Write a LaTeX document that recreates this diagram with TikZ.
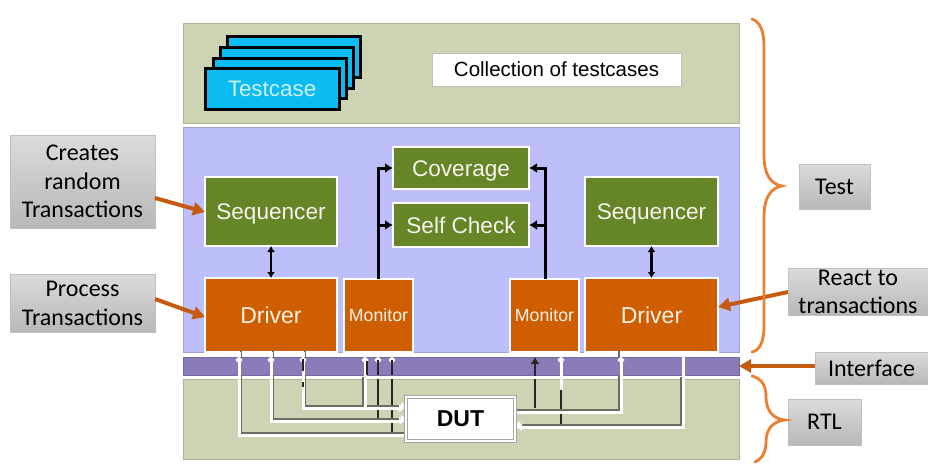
\documentclass[tikz,border=0pt]{standalone}
\usepackage{fontspec}
\setmainfont{Liberation Sans}
\newfontfamily\calib{Carlito}
\usetikzlibrary{arrows.meta}
\definecolor{bandgreen}{HTML}{CDD4B3}
\definecolor{bandblue}{HTML}{BDBFFB}
\definecolor{bandpurple}{HTML}{8A7CB9}
\definecolor{boxgreen}{HTML}{668526}
\definecolor{boxorange}{HTML}{CF5E00}
\definecolor{cardblue}{HTML}{0BBBF2}
\definecolor{arroworange}{HTML}{C55A11}
\definecolor{braceorange}{HTML}{ED7D31}
\definecolor{wireshadow}{HTML}{6A6E60}
\newcommand{\fs}[1]{\fontsize{#1}{#1}\selectfont}
\newcommand{\pxnode}[6]{\node[#6,minimum width={#4-#2},minimum height={#5-#3}] (#1) at ({(#2+#4)/2},{(#3+#5)/2})}
\tikzset{
 x=1pt,y=-1pt,
 band/.style={draw=#1!85!black,line width=0.6pt,fill=#1,inner sep=0,outer sep=0},
 blockg/.style={draw=white,line width=2.6pt,fill=boxgreen,text=white!92!boxgreen,inner sep=0,outer sep=0,font=\fs{22.6},text height=16pt,text depth=0pt},
 blocko/.style={draw=white,line width=2.6pt,fill=boxorange,text=white!92!boxorange,inner sep=0,outer sep=0,font=\fs{23},text height=16.5pt,text depth=0pt},
 monitorbox/.style={blocko,font=\fs{17.7},text height=12.7pt},
 card/.style={draw=black,line width=3pt,fill=cardblue,inner sep=0,outer sep=0,text=white!80!cardblue,font=\fs{22.4},text height=16pt,text depth=0pt},
 note/.style={draw=black!25,line width=0.5pt,top color=black!14,bottom color=black!28,inner sep=0,outer sep=0,align=center,font=\calib\fs{24},text=black},
 flow/.style={draw=black,line width=3pt,-{Latex[length=8pt,width=10pt]}},
 flowb/.style={draw=black,line width=2.8pt,{Latex[length=6pt,width=8pt]}-{Latex[length=6pt,width=8pt]}},
 callout/.style={draw=arroworange,line width=4pt,-{Triangle[length=12pt,width=13pt]}},
 bracec/.style={draw=braceorange,line width=2.8pt,line cap=round},
 wireL/.style={draw=white,line width=3pt,preaction={draw=wireshadow,line width=1.5pt,transform canvas={xshift=2pt,yshift=2pt}}},
 wireR/.style={draw=white,line width=3pt,preaction={draw=wireshadow,line width=1.5pt,transform canvas={xshift=-2pt,yshift=2pt}}},
 wireTop/.style={draw=white,line width=3pt,{Circle[white,length=6pt,width=6pt]}-},
 darkw/.style={draw=black!85,line width=2.8pt},
 intip/.style={-{Latex[white,length=7pt,width=8pt]}},
}
\begin{document}
\begin{tikzpicture}
\useasboundingbox (0,0) rectangle (928,463);
\fill[white] (0,0) rectangle (928,463);
% bands
\pxnode{bandtop}{183}{23}{739}{123}{band=bandgreen}{};
\pxnode{bandmid}{183}{127}{739}{352}{band=bandblue}{};
\pxnode{bandrtl}{183}{379}{739}{459}{band=bandgreen}{};
% testcase cards
\pxnode{c4}{227}{36}{360}{77}{card}{};
\pxnode{c3}{220}{47}{353}{88}{card}{};
\pxnode{c2}{213}{58}{346}{98}{card}{};
\pxnode{c1}{205}{68}{339}{109}{card}{Testcase};
\pxnode{coll}{432}{53}{681}{86}{draw=black!25,line width=1pt,fill=white,inner sep=0,outer sep=0,font=\fs{20.5}}{Collection of testcases};
% blocks
\pxnode{seqL}{205}{177}{337}{246}{blockg}{Sequencer};
\pxnode{seqR}{585}{177}{718}{246}{blockg}{Sequencer};
\pxnode{drvL}{205}{278}{337}{352}{blocko}{Driver};
\pxnode{drvR}{585}{278}{718}{352}{blocko}{Driver};
\pxnode{monL}{344}{279}{413}{352}{monitorbox}{Monitor};
\pxnode{monR}{510}{279}{579}{352}{monitorbox}{Monitor};
\pxnode{cov}{393}{147}{529}{189}{blockg}{Coverage};
\pxnode{chk}{393}{203}{529}{247}{blockg}{Self Check};
% wire columns
\coordinate (a1) at (239,0);
\coordinate (a2) at (271,0);
\coordinate (a3) at (303,0);
\coordinate (a4) at (365,0);
\coordinate (a5) at (378,0);
\coordinate (a6) at (392,0);
\coordinate (b1) at (535,0);
\coordinate (b2) at (561,0);
\coordinate (b3) at (621,0);
\coordinate (b4) at (683,0);
\coordinate (r1) at (0,408);
\coordinate (r2) at (0,421);
\coordinate (r3) at (0,435);
\coordinate (r4) at (0,412);
\coordinate (r5) at (0,427);
\coordinate (vL) at (378,0);
\coordinate (vR) at (545,0);
% flows among blocks
\draw[flowb] (seqL.south) -- (drvL.north);
\draw[flowb] (seqR.south) -- (drvR.north);
\draw[flow] (vL |- monL.north) |- (cov.west);
\draw[flow] (vL |- chk.west) -- (chk.west);
\draw[flow] (vR |- monR.north) |- (cov.east);
\draw[flow] (vR |- chk.east) -- (chk.east);
% DUT wires
\draw[darkw] (a5 |- bandrtl.north) -- (a5 |- r2);
\draw[darkw] (a6 |- bandrtl.north) -- (a6 |- r3);
\draw[darkw] (b2 |- 0,390) -- (b2 |- r5);
\draw[wireL] (a1 |- drvL.south) |- (406,435);
\draw[wireL,intip] (a2 |- drvL.south) |- (406,421);
\draw[wireL,intip] (a3 |- drvL.south) |- (406,408);
\draw[wireR] (a4 |- bandrtl.north) -- (a4 |- r1);
\draw[wireR] (b3 |- drvR.south) |- (515,412);
\draw[wireR,{Latex[white,length=7pt,width=8pt]}-] (515,427) -| (b4 |- bandrtl.north);
\draw[draw=white,line width=3pt] (b2 |- bandrtl.north) -- (b2 |- 0,390);
% device box
\pxnode{dut}{406}{397}{515}{441}{draw=black!35,line width=0.6pt,double=white,double distance=2pt,fill=white,inner sep=0,outer sep=0,font=\bfseries\fs{23}}{DUT};
% interface band over the wires
\pxnode{bandif}{183}{357}{739}{375}{band=bandpurple}{};
\foreach \c in {a1,a2,a3,b3}{
  \draw[wireTop] (\c |- drvL.south) ++(0,5) -- (\c |- bandrtl.north);
}
\foreach \c in {a4,b2}{
  \draw[wireTop] (\c |- monL.south) ++(0,5) -- (\c |- bandrtl.north);
}
\foreach \c in {a5,a6}{
  \draw[wireTop] (\c |- monL.south) ++(0,5) -- (\c |- bandif.north);
}
\draw[draw=white,line width=3pt] (b4 |- bandif.north) -- (b4 |- bandrtl.north);
% dark signals
\draw[darkw] (a5 |- bandif.north) ++(0,3) -- (a5 |- bandif.south);
\draw[darkw] (a6 |- bandif.north) ++(0,3) -- (a6 |- bandif.south);
\draw[darkw] (a3 |- bandif.north) ++(0,2) -- ++(0,12);
\draw[darkw] (a3 |- bandrtl.north) ++(0,3) -- ++(0,5);
\draw[draw=black!85,line width=2pt] (a4 |- bandif.north) ++(1.5,4) -- ++(0,14);
\draw[draw=black!85,line width=2.6pt,-{Latex[length=7pt,width=9pt]}] (b1 |- r1) -- (b1 |- bandif.north);
\draw[draw=white,line width=3pt] (b1 |- bandif.south) ++(0,0.5) -- (b1 |- bandrtl.north);
% notes
\pxnode{nCreate}{10}{135}{155}{228}{note}{Creates\\[5pt]random\\[4pt]Transactions};
\pxnode{nProc}{10}{274}{155}{332}{note}{Process\\[5pt]Transactions};
\pxnode{nTest}{799}{164}{870}{209}{note}{Test};
\pxnode{nReact}{788}{268}{928}{315}{note}{React to\\[4pt]transactions};
\pxnode{nIf}{815}{352}{928}{384}{note}{Interface};
\pxnode{nRtl}{788}{399}{861}{445}{note}{RTL};
% callouts
\draw[callout] (nCreate.east |- 0,198) -- (seqL.west |- 0,212);
\draw[callout] (nProc.east |- 0,299) -- (drvL.west |- 0,317);
\draw[callout] (nReact.west |- 0,292) -- (drvR.east |- 0,307);
\draw[callout] (nIf.west |- 0,366) -- (bandif.east |- 0,366);
% braces
\draw[bracec] (752,19) .. controls (760,22) and (764,30) .. (764,48) -- (764,155) .. controls (764,175) and (771,184) .. (782,186) .. controls (771,188) and (764,197) .. (764,217) -- (764,325) .. controls (764,342) and (760,350) .. (752,352);
\draw[bracec] (752,376) .. controls (760,378) and (766,384) .. (766,396) .. controls (766,412) and (774,419) .. (785,420) .. controls (774,421) and (766,428) .. (766,442) .. controls (766,452) and (762,459) .. (755,462);
\end{tikzpicture}
\end{document}
